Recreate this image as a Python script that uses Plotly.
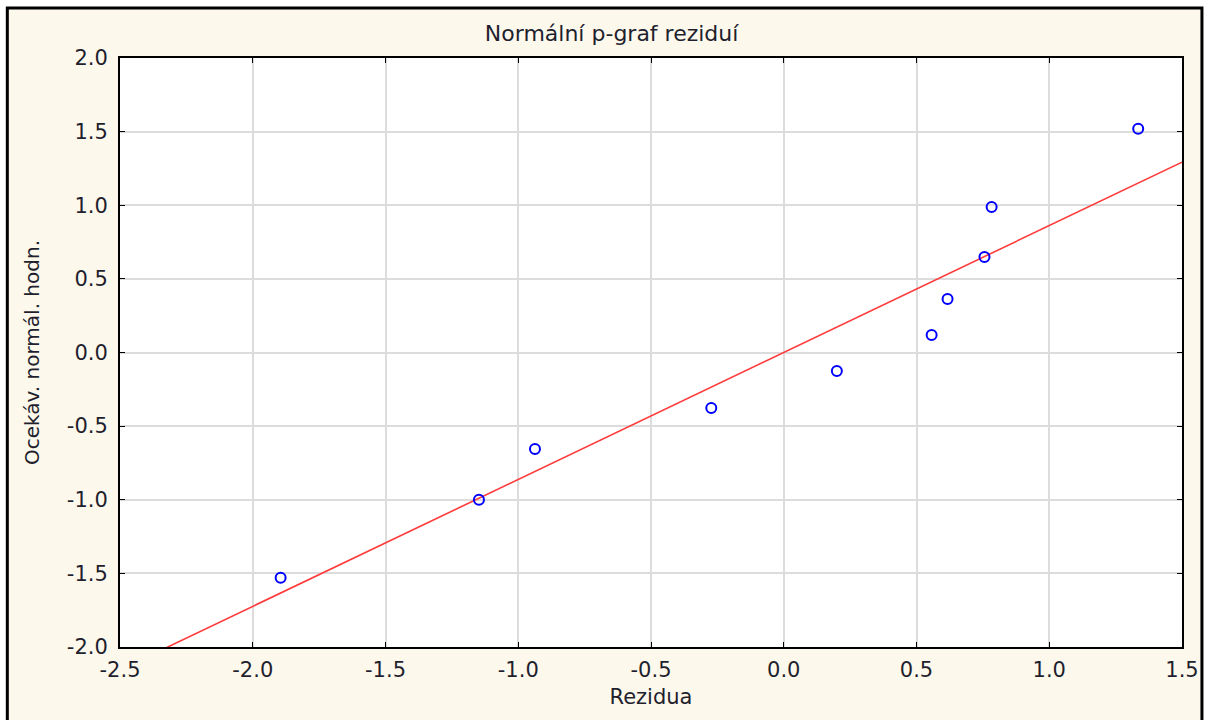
import plotly.graph_objects as go

# Residuals and their expected normal values
rezidua = [-1.895, -1.148, -0.937, -0.273, 0.200, 0.557, 0.617, 0.756, 0.783, 1.335]
ocekavane = [-1.53, -1.00, -0.655, -0.377, -0.126, 0.119, 0.363, 0.649, 0.988, 1.52]

# Reference line through the points
fit_slope = 0.862
fit_intercept = 0.0

x_ticks = [-2.5, -2.0, -1.5, -1.0, -0.5, 0.0, 0.5, 1.0, 1.5]
y_ticks = [-2.0, -1.5, -1.0, -0.5, 0.0, 0.5, 1.0, 1.5, 2.0]
x_labels = ["-2.5", "-2.0", "-1.5", "-1.0", "-0.5", "0.0", "0.5", "1.0", "1.5"]
y_labels = ["-2.0", "-1.5", "-1.0", "-0.5", "0.0", "0.5", "1.0", "1.5", "2.0"]

W, H = 1211, 720
ML, MR, MT, MB = 120, 26, 58, 73
pw, ph = W - ML - MR, H - MT - MB


def px_x(p):
    return (p - ML) / pw


def px_y(p):
    return (H - MB - p) / ph


line_x = [x_ticks[0], x_ticks[-1]]
line_y = [fit_intercept + fit_slope * v for v in line_x]

font = "DejaVu Sans, Liberation Sans, Arial, sans-serif"
txt = "#1f1f2e"

fig = go.Figure()
fig.add_trace(go.Scatter(
    x=line_x, y=line_y, mode="lines",
    line=dict(color="#ff3b3b", width=1.6),
    hoverinfo="skip", showlegend=False,
))
fig.add_trace(go.Scatter(
    x=rezidua, y=ocekavane, mode="markers",
    marker=dict(symbol="circle-open", size=10, color="#0000ff",
                line=dict(width=2, color="#0000ff")),
    showlegend=False, cliponaxis=False,
))

axis_common = dict(
    showgrid=True, gridcolor="#dcdcdc", gridwidth=2,
    zeroline=False, showline=True, linecolor="black", linewidth=2,
    mirror="ticks", ticks="inside", ticklen=5, tickcolor="black", tickwidth=1,
    tickfont=dict(family=font, size=21, color=txt),
)

fig.update_layout(
    width=W, height=H,
    margin=dict(l=ML, r=MR, t=MT, b=MB),
    paper_bgcolor="white",
    plot_bgcolor="white",
    title=dict(text="Normální p-graf reziduí", xref="paper", x=px_x(613),
               xanchor="center", yref="container", y=1 - 33 / H, yanchor="middle",
               font=dict(family=font, size=22, color=txt)),
    xaxis=dict(axis_common, range=[x_ticks[0], x_ticks[-1]], tickmode="array",
               tickvals=x_ticks, ticktext=x_labels, ticklabelstandoff=3,
               title=dict(text="Rezidua", standoff=8,
                          font=dict(family=font, size=21, color=txt))),
    yaxis=dict(axis_common, range=[y_ticks[0], y_ticks[-1]], tickmode="array",
               tickvals=y_ticks, ticktext=y_labels, ticklabelstandoff=6,
               title=dict(text="Ocekáv. normál. hodn.", standoff=22,
                          font=dict(family=font, size=20, color=txt))),
    shapes=[
        dict(type="rect", xref="paper", yref="paper", layer="below",
             x0=px_x(7), x1=px_x(1205), y0=px_y(730), y1=px_y(8),
             fillcolor="#fdf8ec", line=dict(color="black", width=3)),
        dict(type="rect", xref="paper", yref="paper", layer="below",
             x0=0, x1=1, y0=0, y1=1,
             fillcolor="white", line=dict(width=0)),
    ],
)

fig.write_html("out.html")
